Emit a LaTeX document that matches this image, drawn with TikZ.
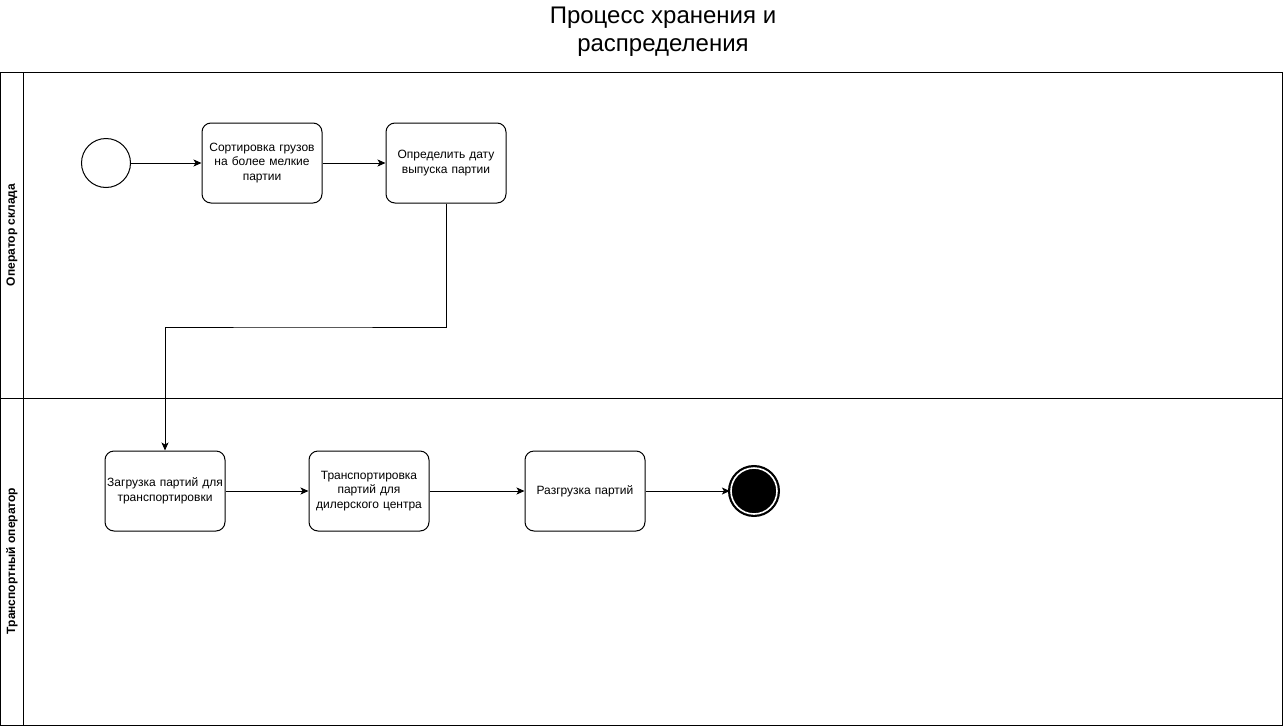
\documentclass[tikz,border=0pt]{standalone}
\usepackage{fontspec}
\setmainfont{Liberation Sans}
\usetikzlibrary{arrows.meta}

\begin{document}
\begin{tikzpicture}[x=1pt,y=-1pt,line width=1pt,
  task/.style={draw, rounded corners=9pt, minimum width=120pt, minimum height=80pt,
    text width=118pt, inner sep=1pt, align=center, font=\fontsize{12}{14.5}\selectfont},
  flow/.style={-{Stealth[length=8pt,width=7pt,inset=2pt]}},
  lanelabel/.style={rotate=90, font=\bfseries\fontsize{12}{14}\selectfont}]
  \useasboundingbox (0,0) rectangle (1283,726);
  % title
  \node[align=center, font=\fontsize{24}{28}\selectfont] (title) at (663,32) {Процесс хранения и\\распределения};
  % pool and lanes
  \draw (0.5,72) rectangle (1282.5,725);
  \draw (23,72) -- (23,725);
  \draw (0.5,398) -- (1282.5,398);
  \node[lanelabel] (laneA) at (12,235) {Оператор склада};
  \node[lanelabel] (laneB) at (12,561) {Транспортный оператор};
  % events
  \node[draw, circle, minimum size=49pt, inner sep=0pt] (start) at (106,163) {};
  \node[draw, circle, fill=black, minimum size=46pt, inner sep=0pt,
    line width=2.2pt, double=white, double distance=1.6pt] (finish) at (754,491) {};
  % tasks
  \node[task] (sort) at (262,163) {Сортировка грузов\\на более мелкие\\партии};
  \node[task] (date) at (446,163) {Определить дату\\выпуска партии};
  \node[task] (load) at (165,491) {Загрузка партий для\\транспортировки};
  \node[task] (trans) at (369,491) {Транспортировка\\партий для\\дилерского центра};
  \node[task] (unload) at (585,491) {Разгрузка партий};
  % flows
  \draw[flow] (start) -- (sort);
  \draw[flow] (sort) -- (date);
  \draw[flow] (date.south) |- (300,327) -| (load.north);
  \draw[flow] (load) -- (trans);
  \draw[flow] (trans) -- (unload);
  \draw[flow] (unload) -- (finish);
\end{tikzpicture}
\end{document}
